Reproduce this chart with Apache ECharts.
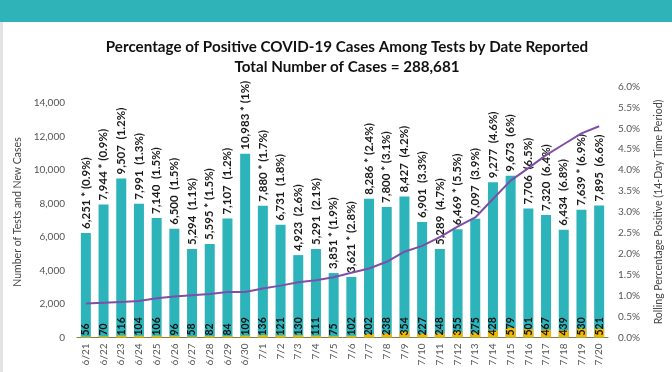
<!DOCTYPE html>
<html><head><meta charset="utf-8">
<script src="https://cdn.jsdelivr.net/npm/echarts@6/dist/echarts.min.js"></script>
<style>html,body{margin:0;padding:0;background:#fff}#c{width:672px;height:372px}</style>
</head><body><div id="c"></div>
<script>
const dates = ['6/21','6/22','6/23','6/24','6/25','6/26','6/27','6/28','6/29','6/30','7/1','7/2','7/3','7/4','7/5','7/6','7/7','7/8','7/9','7/10','7/11','7/12','7/13','7/14','7/15','7/16','7/17','7/18','7/19','7/20'];
const tests = [6251,7944,9507,7991,7140,6500,5294,5595,7107,10983,7880,6731,4923,5291,3851,3621,8286,7800,8427,6901,5289,6469,7097,9277,9673,7706,7320,6434,7639,7895];
const newCases = [56,70,116,104,106,96,58,82,84,109,136,121,130,111,75,102,202,238,354,227,248,355,275,428,579,501,467,439,530,521];
const dailyPct = ['0.9','0.9','1.2','1.3','1.5','1.5','1.1','1.5','1.2','1','1.7','1.8','2.6','2.1','1.9','2.8','2.4','3.1','4.2','3.3','4.7','5.5','3.9','4.6','6','6.5','6.4','6.8','6.9','6.6'];
const starred = [1,1,0,0,0,0,0,1,0,1,1,0,0,0,1,1,1,1,0,0,0,1,0,0,0,0,0,0,1,0];
const rollingPct = [0.81,0.83,0.85,0.87,0.94,0.98,1.01,1.04,1.09,1.09,1.17,1.24,1.32,1.37,1.44,1.55,1.65,1.81,2.05,2.19,2.4,2.65,2.87,3.31,3.75,4.05,4.36,4.62,4.88,5.05];
const leftTicks = [0,2000,4000,6000,8000,10000,12000,14000];
const rightTicks = [0,0.5,1,1.5,2,2.5,3,3.5,4,4.5,5,5.5,6];
const titleText = 'Percentage of Positive COVID-19 Cases Among Tests by Date Reported\nTotal Number of Cases = 288,681';

const FONT = 'Lato';
const chart = echarts.init(document.getElementById('c'), null, {renderer:'canvas'});
chart.setOption({
  animation:false,
  backgroundColor:'#fff',
  textStyle:{fontFamily:FONT},
  graphic:[
    {type:'rect', shape:{x:0,y:0,width:672,height:22}, style:{fill:'#2fb3b9'}},
    {type:'rect', shape:{x:0,y:22,width:3,height:350}, style:{fill:'#e3e3e3'}}
  ],
  title:{
    text:titleText, left:342, textAlign:'center', top:32,
    textStyle:{fontFamily:FONT,fontSize:15.2,fontWeight:'bold',color:'#111',lineHeight:20}
  },
  grid:{left:77,right:64,top:86.5,bottom:34.5},
  xAxis:{
    type:'category', data:dates,
    axisTick:{show:false},
    axisLine:{lineStyle:{color:'#8c7b3c',width:1}},
    axisLabel:{rotate:90,fontSize:10,color:'#555',margin:6,interval:0}
  },
  yAxis:[
    {type:'value',min:0,max:15000,interval:2000,
     splitLine:{show:false},axisLine:{show:false},axisTick:{show:false},
     axisLabel:{fontSize:10,color:'#555',margin:12,
       formatter:v=>leftTicks.includes(v)?v.toLocaleString('en-US'):''},
     name:'Number of Tests and New Cases',nameLocation:'middle',nameGap:48,nameRotate:90,
     nameTextStyle:{fontSize:10.5,color:'#444'}},
    {type:'value',min:0,max:6,interval:0.5,
     splitLine:{show:false},axisLine:{show:false},axisTick:{show:false},
     axisLabel:{fontSize:10,color:'#555',margin:10,
       formatter:v=>rightTicks.includes(v)?v.toFixed(1)+'%':''},
     name:'Rolling Percentage Positive (14-Day Time Period)',nameLocation:'middle',nameGap:45,nameRotate:90,
     nameTextStyle:{fontSize:10.5,color:'#444'}}
  ],
  series:[
    {type:'bar',data:tests,barWidth:10,itemStyle:{color:'#2cb4ba'},z:2,
     label:{show:true,position:'top',rotate:90,align:'left',verticalAlign:'middle',distance:4,
       fontSize:11.5,fontWeight:'bold',color:'#1a1a1a',fontFamily:FONT,
       formatter:p=>tests[p.dataIndex].toLocaleString('en-US')+(starred[p.dataIndex]?' * ':'  ')+'('+dailyPct[p.dataIndex]+'%)'}},
    {type:'bar',data:newCases,barWidth:10,barGap:'-100%',itemStyle:{color:'#f2b705'},z:3,
     label:{show:true,position:'insideBottom',rotate:90,align:'left',verticalAlign:'middle',distance:2,
       fontSize:10.5,fontWeight:'bold',color:'#111',fontFamily:FONT,
       formatter:p=>String(newCases[p.dataIndex])}},
    {type:'line',yAxisIndex:1,data:rollingPct,symbol:'none',z:5,
     lineStyle:{color:'#7f4fa8',width:2},itemStyle:{color:'#7f4fa8'}}
  ]
});
</script></body></html>
